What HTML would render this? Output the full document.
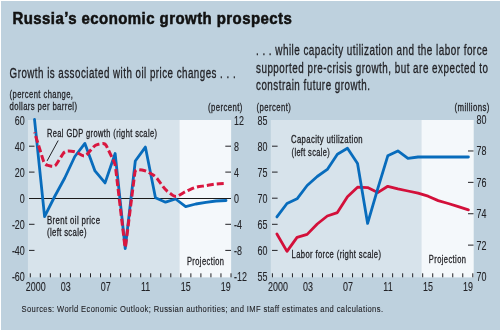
<!DOCTYPE html>
<html><head><meta charset="utf-8"><title>Russia's economic growth prospects</title>
<style>
html,body{margin:0;padding:0;background:#bed1de;}
body{width:500px;height:330px;overflow:hidden;}
svg{display:block;will-change:transform;}
text{font-family:"Liberation Sans", sans-serif;fill:#222226;stroke:#222226;stroke-width:0.3px;}
text.n{stroke-width:0.1px;}
text.h{stroke-width:0.55px;fill:#111;stroke:#111;}
</style></head><body>
<svg width="500" height="330" viewBox="0 0 500 330">
<rect x="0" y="0" width="500" height="330" fill="#ffffff"/>
<rect x="1" y="1" width="499" height="329" fill="#bed1de"/>
<text transform="translate(12.4 23.6) scale(0.9042 1)" font-size="16.6" font-weight="bold" class="h" textLength="309.10" lengthAdjust="spacing">Russia’s economic growth prospects</text>
<text transform="translate(9.6 77.6) scale(0.6354 1)" font-size="15.4" textLength="355.69" lengthAdjust="spacing">Growth is associated with oil price changes . . .</text>
<text transform="translate(256 55) scale(0.6459 1)" font-size="15.4" textLength="358.58" lengthAdjust="spacing">. . . while capacity utilization and the labor force</text>
<text transform="translate(256 72.5) scale(0.6402 1)" font-size="15.4" textLength="362.38" lengthAdjust="spacing">supported pre-crisis growth, but are expected to</text>
<text transform="translate(256 90.2) scale(0.6376 1)" font-size="15.4" textLength="178.81" lengthAdjust="spacing">constrain future growth.</text>
<rect x="27.9" y="120.0" width="203.2" height="157.3" fill="#d7e3eb"/>
<rect x="179.6" y="120.0" width="51.5" height="157.3" fill="#f4f8fb"/>
<text transform="translate(9.6 97.7) scale(0.6611 1)" font-size="11.5" textLength="95.90" lengthAdjust="spacing">(percent change,</text>
<text transform="translate(9.6 109.6) scale(0.6731 1)" font-size="11.5" textLength="100.14" lengthAdjust="spacing">dollars per barrel)</text>
<text transform="translate(207.9 110.6) scale(0.6747 1)" font-size="11.5" textLength="51.13" lengthAdjust="spacing">(percent)</text>
<text transform="translate(24.8 124.5) scale(0.72 1)" font-size="12.4" class="n" text-anchor="end">60</text>
<text transform="translate(234 124.5) scale(0.72 1)" font-size="12.4" class="n">12</text>
<text transform="translate(24.8 150.7) scale(0.72 1)" font-size="12.4" class="n" text-anchor="end">40</text>
<text transform="translate(234 150.7) scale(0.72 1)" font-size="12.4" class="n">8</text>
<line x1="29" y1="146.2" x2="34.5" y2="146.2" stroke="#222226" stroke-width="1"/>
<line x1="225.3" y1="146.2" x2="231" y2="146.2" stroke="#222226" stroke-width="1"/>
<text transform="translate(24.8 176.6) scale(0.72 1)" font-size="12.4" class="n" text-anchor="end">20</text>
<text transform="translate(234 176.6) scale(0.72 1)" font-size="12.4" class="n">4</text>
<line x1="29" y1="172.1" x2="34.5" y2="172.1" stroke="#222226" stroke-width="1"/>
<line x1="225.3" y1="172.1" x2="231" y2="172.1" stroke="#222226" stroke-width="1"/>
<text transform="translate(24.8 202.7) scale(0.72 1)" font-size="12.4" class="n" text-anchor="end">0</text>
<text transform="translate(234 202.7) scale(0.72 1)" font-size="12.4" class="n">0</text>
<text transform="translate(24.8 228.8) scale(0.72 1)" font-size="12.4" class="n" text-anchor="end">-20</text>
<text transform="translate(234 228.8) scale(0.72 1)" font-size="12.4" class="n">-4</text>
<line x1="29" y1="224.3" x2="34.5" y2="224.3" stroke="#222226" stroke-width="1"/>
<line x1="225.3" y1="224.3" x2="231" y2="224.3" stroke="#222226" stroke-width="1"/>
<text transform="translate(24.8 254.9) scale(0.72 1)" font-size="12.4" class="n" text-anchor="end">-40</text>
<text transform="translate(234 254.9) scale(0.72 1)" font-size="12.4" class="n">-8</text>
<line x1="29" y1="250.4" x2="34.5" y2="250.4" stroke="#222226" stroke-width="1"/>
<line x1="225.3" y1="250.4" x2="231" y2="250.4" stroke="#222226" stroke-width="1"/>
<text transform="translate(24.8 281.0) scale(0.72 1)" font-size="12.4" class="n" text-anchor="end">-60</text>
<text transform="translate(234 281.0) scale(0.72 1)" font-size="12.4" class="n">-12</text>
<line x1="29" y1="198.5" x2="231" y2="198.5" stroke="#1a1a1a" stroke-width="1"/>
<line x1="30.3" y1="273.3" x2="30.3" y2="277.3" stroke="#222226" stroke-width="1"/>
<line x1="40.335" y1="273.3" x2="40.335" y2="277.3" stroke="#222226" stroke-width="1"/>
<line x1="50.370000000000005" y1="273.3" x2="50.370000000000005" y2="277.3" stroke="#222226" stroke-width="1"/>
<line x1="60.405" y1="273.3" x2="60.405" y2="277.3" stroke="#222226" stroke-width="1"/>
<line x1="70.44" y1="273.3" x2="70.44" y2="277.3" stroke="#222226" stroke-width="1"/>
<line x1="80.475" y1="273.3" x2="80.475" y2="277.3" stroke="#222226" stroke-width="1"/>
<line x1="90.51" y1="273.3" x2="90.51" y2="277.3" stroke="#222226" stroke-width="1"/>
<line x1="100.545" y1="273.3" x2="100.545" y2="277.3" stroke="#222226" stroke-width="1"/>
<line x1="110.58" y1="273.3" x2="110.58" y2="277.3" stroke="#222226" stroke-width="1"/>
<line x1="120.615" y1="273.3" x2="120.615" y2="277.3" stroke="#222226" stroke-width="1"/>
<line x1="130.65" y1="273.3" x2="130.65" y2="277.3" stroke="#222226" stroke-width="1"/>
<line x1="140.685" y1="273.3" x2="140.685" y2="277.3" stroke="#222226" stroke-width="1"/>
<line x1="150.72" y1="273.3" x2="150.72" y2="277.3" stroke="#222226" stroke-width="1"/>
<line x1="160.75500000000002" y1="273.3" x2="160.75500000000002" y2="277.3" stroke="#222226" stroke-width="1"/>
<line x1="170.79000000000002" y1="273.3" x2="170.79000000000002" y2="277.3" stroke="#222226" stroke-width="1"/>
<line x1="180.82500000000002" y1="273.3" x2="180.82500000000002" y2="277.3" stroke="#222226" stroke-width="1"/>
<line x1="190.86" y1="273.3" x2="190.86" y2="277.3" stroke="#222226" stroke-width="1"/>
<line x1="200.895" y1="273.3" x2="200.895" y2="277.3" stroke="#222226" stroke-width="1"/>
<line x1="210.93" y1="273.3" x2="210.93" y2="277.3" stroke="#222226" stroke-width="1"/>
<line x1="220.965" y1="273.3" x2="220.965" y2="277.3" stroke="#222226" stroke-width="1"/>
<line x1="231.0" y1="273.3" x2="231.0" y2="277.3" stroke="#222226" stroke-width="1"/>
<text transform="translate(35.699999999999996 291) scale(0.72 1)" font-size="12.4" class="n" text-anchor="middle">2000</text>
<text transform="translate(65.7 291) scale(0.72 1)" font-size="12.4" class="n" text-anchor="middle">03</text>
<text transform="translate(105.7 291) scale(0.72 1)" font-size="12.4" class="n" text-anchor="middle">07</text>
<text transform="translate(145.70000000000002 291) scale(0.72 1)" font-size="12.4" class="n" text-anchor="middle">11</text>
<text transform="translate(185.70000000000002 291) scale(0.72 1)" font-size="12.4" class="n" text-anchor="middle">15</text>
<text transform="translate(225.70000000000002 291) scale(0.72 1)" font-size="12.4" class="n" text-anchor="middle">19</text>
<text transform="translate(186.9 265.2) scale(0.6826 1)" font-size="11" textLength="54.35" lengthAdjust="spacing">Projection</text>
<text transform="translate(47 136.6) scale(0.7108 1)" font-size="10.5" textLength="154.75" lengthAdjust="spacing">Real GDP growth (right scale)</text>
<text transform="translate(47 224.2) scale(0.7430 1)" font-size="10.5" textLength="71.33" lengthAdjust="spacing">Brent oil price</text>
<text transform="translate(47 236.3) scale(0.7340 1)" font-size="10.5" textLength="53.81" lengthAdjust="spacing">(left scale)</text>
<line x1="58.2" y1="140.5" x2="47.1" y2="160.9" stroke="#222226" stroke-width="1"/>
<path d="M34.50 119.30 L44.58 216.70 L54.66 196.50 L64.74 178.00 L74.82 156.50 L84.90 143.40 L94.98 170.90 L105.06 182.90 L115.14 153.50 L125.22 248.50 L135.30 161.00 L145.38 147.10 L155.46 197.70 L165.54 202.20 L175.62 199.00 L185.70 206.60 L195.78 204.00 L205.86 202.40 L215.94 201.00 L226.02 200.50" fill="none" stroke="#086cbc" stroke-width="2.8" stroke-linejoin="round" stroke-linecap="round"/>
<path d="M34.50 132.40 L43.53 161.26 Q44.58 164.60 47.98 165.41 L51.26 166.19 Q54.66 167.00 56.53 164.04 L62.87 153.96 Q64.74 151.00 68.24 151.10 L71.32 151.20 Q74.82 151.30 77.87 153.02 L81.85 155.28 Q84.90 157.00 87.15 154.32 L92.73 147.68 Q94.98 145.00 98.41 144.32 L101.63 143.68 Q105.06 143.00 106.57 146.16 L113.63 160.84 Q115.14 164.00 115.55 167.48 L124.81 245.52 Q125.22 249.00 125.66 245.53 L134.86 172.67 Q135.30 169.20 138.77 169.65 L141.91 170.05 Q145.38 170.50 148.41 172.25 L152.43 174.55 Q155.46 176.30 157.53 179.12 L163.47 187.18 Q165.54 190.00 168.35 192.09 L172.81 195.41 Q175.62 197.50 178.61 195.69 L182.71 193.21 Q185.70 191.40 188.92 190.03 L192.56 188.47 Q195.78 187.10 199.24 186.58 L202.40 186.12 Q205.86 185.60 209.32 185.05 L212.48 184.55 Q215.94 184.00 219.44 183.83 L226.02 183.50" fill="none" stroke="#d9173f" stroke-width="3" stroke-dasharray="7 3" stroke-dashoffset="6.2"/>
<rect x="270.8" y="120.0" width="202.8" height="157.3" fill="#d7e3eb"/>
<rect x="421.6" y="120.0" width="52.0" height="157.3" fill="#f4f8fb"/>
<text transform="translate(256.5 110.6) scale(0.6708 1)" font-size="11.5" textLength="51.13" lengthAdjust="spacing">(percent)</text>
<text transform="translate(454.5 110.6) scale(0.6848 1)" font-size="11.5" textLength="51.11" lengthAdjust="spacing">(millions)</text>
<text transform="translate(267.4 124.5) scale(0.72 1)" font-size="12.4" class="n" text-anchor="end">85</text>
<text transform="translate(267.4 150.7) scale(0.72 1)" font-size="12.4" class="n" text-anchor="end">80</text>
<line x1="272" y1="146.2" x2="277.6" y2="146.2" stroke="#222226" stroke-width="1"/>
<text transform="translate(267.4 176.6) scale(0.72 1)" font-size="12.4" class="n" text-anchor="end">75</text>
<line x1="272" y1="172.1" x2="277.6" y2="172.1" stroke="#222226" stroke-width="1"/>
<text transform="translate(267.4 202.7) scale(0.72 1)" font-size="12.4" class="n" text-anchor="end">70</text>
<line x1="272" y1="198.2" x2="277.6" y2="198.2" stroke="#222226" stroke-width="1"/>
<text transform="translate(267.4 228.8) scale(0.72 1)" font-size="12.4" class="n" text-anchor="end">65</text>
<line x1="272" y1="224.3" x2="277.6" y2="224.3" stroke="#222226" stroke-width="1"/>
<text transform="translate(267.4 254.9) scale(0.72 1)" font-size="12.4" class="n" text-anchor="end">60</text>
<line x1="272" y1="250.4" x2="277.6" y2="250.4" stroke="#222226" stroke-width="1"/>
<text transform="translate(267.4 281.0) scale(0.72 1)" font-size="12.4" class="n" text-anchor="end">55</text>
<text transform="translate(476.5 124.1) scale(0.72 1)" font-size="12.4" class="n">80</text>
<text transform="translate(476.5 155.48) scale(0.72 1)" font-size="12.4" class="n">78</text>
<line x1="468" y1="150.98" x2="473.5" y2="150.98" stroke="#222226" stroke-width="1"/>
<text transform="translate(476.5 186.85999999999999) scale(0.72 1)" font-size="12.4" class="n">76</text>
<line x1="468" y1="182.35999999999999" x2="473.5" y2="182.35999999999999" stroke="#222226" stroke-width="1"/>
<text transform="translate(476.5 218.24) scale(0.72 1)" font-size="12.4" class="n">74</text>
<line x1="468" y1="213.74" x2="473.5" y2="213.74" stroke="#222226" stroke-width="1"/>
<text transform="translate(476.5 249.62) scale(0.72 1)" font-size="12.4" class="n">72</text>
<line x1="468" y1="245.12" x2="473.5" y2="245.12" stroke="#222226" stroke-width="1"/>
<text transform="translate(476.5 281.0) scale(0.72 1)" font-size="12.4" class="n">70</text>
<line x1="272.4" y1="273.3" x2="272.4" y2="277.3" stroke="#222226" stroke-width="1"/>
<line x1="282.41999999999996" y1="273.3" x2="282.41999999999996" y2="277.3" stroke="#222226" stroke-width="1"/>
<line x1="292.44" y1="273.3" x2="292.44" y2="277.3" stroke="#222226" stroke-width="1"/>
<line x1="302.46" y1="273.3" x2="302.46" y2="277.3" stroke="#222226" stroke-width="1"/>
<line x1="312.47999999999996" y1="273.3" x2="312.47999999999996" y2="277.3" stroke="#222226" stroke-width="1"/>
<line x1="322.5" y1="273.3" x2="322.5" y2="277.3" stroke="#222226" stroke-width="1"/>
<line x1="332.52" y1="273.3" x2="332.52" y2="277.3" stroke="#222226" stroke-width="1"/>
<line x1="342.53999999999996" y1="273.3" x2="342.53999999999996" y2="277.3" stroke="#222226" stroke-width="1"/>
<line x1="352.55999999999995" y1="273.3" x2="352.55999999999995" y2="277.3" stroke="#222226" stroke-width="1"/>
<line x1="362.58" y1="273.3" x2="362.58" y2="277.3" stroke="#222226" stroke-width="1"/>
<line x1="372.59999999999997" y1="273.3" x2="372.59999999999997" y2="277.3" stroke="#222226" stroke-width="1"/>
<line x1="382.62" y1="273.3" x2="382.62" y2="277.3" stroke="#222226" stroke-width="1"/>
<line x1="392.64" y1="273.3" x2="392.64" y2="277.3" stroke="#222226" stroke-width="1"/>
<line x1="402.65999999999997" y1="273.3" x2="402.65999999999997" y2="277.3" stroke="#222226" stroke-width="1"/>
<line x1="412.67999999999995" y1="273.3" x2="412.67999999999995" y2="277.3" stroke="#222226" stroke-width="1"/>
<line x1="422.69999999999993" y1="273.3" x2="422.69999999999993" y2="277.3" stroke="#222226" stroke-width="1"/>
<line x1="432.71999999999997" y1="273.3" x2="432.71999999999997" y2="277.3" stroke="#222226" stroke-width="1"/>
<line x1="442.74" y1="273.3" x2="442.74" y2="277.3" stroke="#222226" stroke-width="1"/>
<line x1="452.76" y1="273.3" x2="452.76" y2="277.3" stroke="#222226" stroke-width="1"/>
<line x1="462.78" y1="273.3" x2="462.78" y2="277.3" stroke="#222226" stroke-width="1"/>
<line x1="472.79999999999995" y1="273.3" x2="472.79999999999995" y2="277.3" stroke="#222226" stroke-width="1"/>
<text transform="translate(278.0 291) scale(0.72 1)" font-size="12.4" class="n" text-anchor="middle">2000</text>
<text transform="translate(308.0 291) scale(0.72 1)" font-size="12.4" class="n" text-anchor="middle">03</text>
<text transform="translate(348.0 291) scale(0.72 1)" font-size="12.4" class="n" text-anchor="middle">07</text>
<text transform="translate(388.0 291) scale(0.72 1)" font-size="12.4" class="n" text-anchor="middle">11</text>
<text transform="translate(428.0 291) scale(0.72 1)" font-size="12.4" class="n" text-anchor="middle">15</text>
<text transform="translate(468.0 291) scale(0.72 1)" font-size="12.4" class="n" text-anchor="middle">19</text>
<text transform="translate(428.8 262.8) scale(0.6844 1)" font-size="11" textLength="54.35" lengthAdjust="spacing">Projection</text>
<text transform="translate(291 143.4) scale(0.7361 1)" font-size="10.5" textLength="97.27" lengthAdjust="spacing">Capacity utilization</text>
<text transform="translate(291.6 156.2) scale(0.7062 1)" font-size="10.5" textLength="53.81" lengthAdjust="spacing">(left scale)</text>
<text transform="translate(291.6 257.9) scale(0.7256 1)" font-size="10.5" textLength="123.20" lengthAdjust="spacing">Labor force (right scale)</text>
<path d="M276.90 234.00 L286.98 251.40 L297.06 237.40 L307.14 234.40 L317.22 224.00 L327.30 216.00 L337.38 212.60 L347.46 196.70 L357.54 187.20 L367.62 187.60 L377.70 192.60 L387.78 186.30 L397.86 188.90 L407.94 191.00 L418.02 193.20 L428.10 196.20 L438.18 200.60 L448.26 203.50 L458.34 206.70 L468.42 209.80" fill="none" stroke="#d3103a" stroke-width="2.8" stroke-linejoin="round" stroke-linecap="round"/>
<path d="M276.90 216.90 L286.98 203.50 L297.06 198.80 L307.14 185.50 L317.22 176.50 L327.30 169.40 L337.38 154.20 L347.46 148.30 L357.54 163.50 L367.62 223.40 L377.70 188.80 L387.78 155.80 L397.86 150.90 L407.94 158.30 L418.02 157.00 L428.10 157.00 L438.18 157.00 L448.26 157.00 L458.34 157.00 L468.42 157.00" fill="none" stroke="#086cbc" stroke-width="2.8" stroke-linejoin="round" stroke-linecap="round"/>
<text transform="translate(21.6 312.4) scale(0.7653 1)" font-size="9.9" class="n" textLength="472.22" lengthAdjust="spacing">Sources: World Economic Outlook; Russian authorities; and IMF staff estimates and calculations.</text>
</svg>
</body></html>
